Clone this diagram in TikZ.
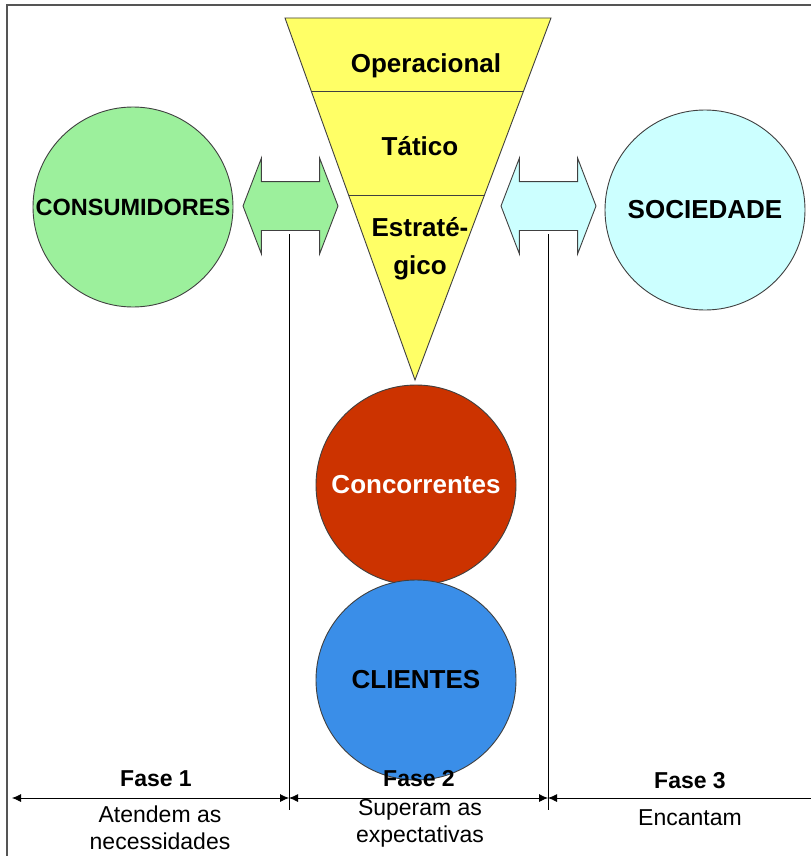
\documentclass[tikz,border=0pt]{standalone}
\usepackage{fontspec}
\setmainfont{Liberation Sans}
\usetikzlibrary{shapes.arrows,arrows.meta,calc}

\definecolor{funnelyellow}{HTML}{FFFF66}
\definecolor{consgreen}{HTML}{9CF09C}
\definecolor{soccyan}{HTML}{CCFFFF}
\definecolor{concred}{HTML}{CC3300}
\definecolor{cliblue}{HTML}{3A8EE8}
\definecolor{outline}{HTML}{404040}
\definecolor{framegray}{HTML}{555555}

\begin{document}
\begin{tikzpicture}[x=1pt,y=-1pt,
  ball/.style={circle,draw=outline,line width=0.9pt,minimum size=200pt,inner sep=0pt},
  bigtxt/.style={font=\fontsize{26}{38}\selectfont\bfseries,align=center},
  phasetxt/.style={font=\fontsize{23}{26}\selectfont\bfseries},
  notetxt/.style={font=\fontsize{23}{27}\selectfont,align=center},
  link/.style={double arrow,draw=outline,line width=0.9pt,minimum height=95pt,
    minimum width=95pt,inner xsep=0pt,inner ysep=24pt,
    double arrow head extend=23.5pt,double arrow tip angle=138},
  tip/.tip={Latex[length=9pt,width=8pt]},
  span/.style={line width=0.8pt,black,tip-tip},
  divider/.style={line width=0.6pt,black}
]
\useasboundingbox (0,0) rectangle (811,856);
\fill[white] (0,0) rectangle (811,856);

% outer frame (top and left edges)
\draw[framegray,line width=2pt] (7,856) -- (7,5) -- (811,5);

% inverted funnel of planning levels
\coordinate (tl) at (285,18);
\coordinate (tr) at (551,18);
\coordinate (apex) at (415,380);
\draw[outline,line width=0.9pt,fill=funnelyellow] (tl) -- (tr) -- (apex) -- cycle;
\draw[outline,line width=0.9pt] ($(tl)!0.2017!(apex)$) -- ($(tr)!0.2017!(apex)$);
\draw[outline,line width=0.9pt] ($(tl)!0.489!(apex)$) -- ($(tr)!0.489!(apex)$);
\node[bigtxt] (oper) at (426,66) {Operacional};
\node[bigtxt] (tat) at (420,146) {Tático};
\node[bigtxt] (estr) at (420,249) {Estraté-\\gico};

% side circles
\node[ball,fill=consgreen] (cons) at (133,207) {};
\node[bigtxt,font=\fontsize{23.5}{26}\selectfont\bfseries] at (cons) {CONSUMIDORES};
\node[ball,fill=soccyan] (soc) at (705,210) {};
\node[bigtxt] at (soc) {SOCIEDADE};

% two-way arrows between the circles and the funnel
\node[link,fill=consgreen] (lnkL) at (290.5,206) {};
\node[link,fill=soccyan] (lnkR) at (548.5,206) {};

% central circles
\node[ball,fill=concred] (conc) at (416,485) {};
\node[bigtxt,text=white] at (conc) {Concorrentes};
\node[ball,fill=cliblue] (cli) at (416,680) {};
\node[bigtxt] at (cli) {CLIENTES};

% phase separators
\coordinate (sepA) at (289,234);
\coordinate (sepA2) at (289,810);
\coordinate (sepB) at (548,234);
\coordinate (sepB2) at (548,810);
\draw[divider] (sepA) -- (sepA2);
\draw[divider] (sepB) -- (sepB2);

% phase spans
\coordinate (p0) at (12,798);
\coordinate (p1) at (289,798);
\coordinate (p2) at (548,798);
\coordinate (p3) at (811,798);
\draw[span] (p0) -- (p1);
\draw[span] (p1) -- (p2);
\draw[line width=0.8pt,black,tip-] (p2) -- (p3);

\node[phasetxt] (f1) at (156,779) {Fase 1};
\node[phasetxt] (f2) at (419,779) {Fase 2};
\node[phasetxt] (f3) at (690,781) {Fase 3};
\node[notetxt] (n1) at (160,828) {Atendem as\\necessidades};
\node[notetxt] (n2) at (420,823) {Superam as\\expectativas};
\node[notetxt] (n3) at (690,818) {Encantam};
\end{tikzpicture}
\end{document}
